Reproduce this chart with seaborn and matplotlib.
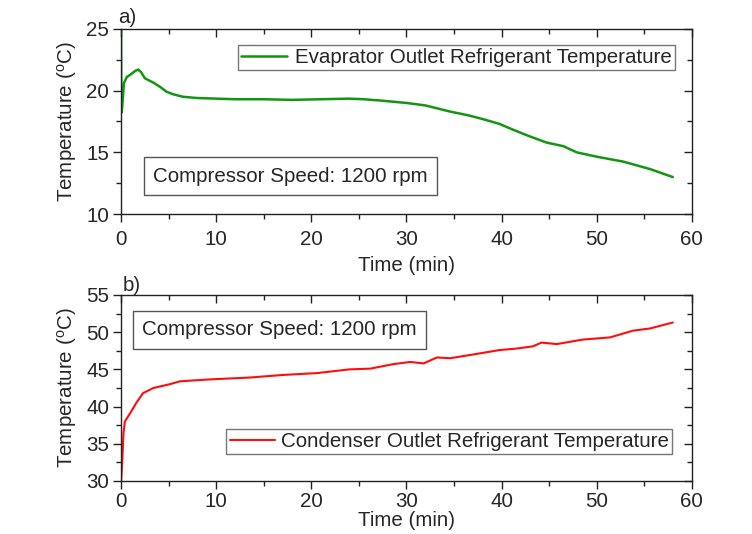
import matplotlib
matplotlib.use("Agg")
import matplotlib.pyplot as plt
import seaborn as sns
import pandas as pd
import numpy as np

sns.set_style("ticks")
plt.rcParams['font.family'] = ['Liberation Sans', 'DejaVu Sans']
plt.rcParams['mathtext.fontset'] = 'custom'
plt.rcParams['mathtext.rm'] = 'Liberation Sans'
plt.rcParams['mathtext.it'] = 'Liberation Sans:italic'

# Evaporator outlet refrigerant temperature (panel a)
evap_time = [0.0, 0.02, 0.1, 0.3, 0.6, 1.0, 1.5, 1.8, 2.1, 2.5, 3.0, 3.5, 4.1, 4.8, 5.5, 6.5,
             8.0, 10.0, 12.0, 15.0, 18.0, 21.0, 24.0, 25.5, 27.2, 30.0, 32.0, 34.6, 36.5,
             38.0, 39.8, 41.0, 42.6, 44.7, 46.5, 47.9, 50.0, 52.8, 55.6, 58.0]
evap_temp = [26.0, 18.2, 18.5, 20.6, 21.1, 21.3, 21.6, 21.7, 21.5, 21.0, 20.8, 20.6, 20.3, 19.9, 19.7, 19.5,
             19.4, 19.35, 19.3, 19.3, 19.25, 19.3, 19.35, 19.3, 19.2, 19.0, 18.8, 18.3, 18.0,
             17.7, 17.3, 16.9, 16.4, 15.8, 15.5, 15.0, 14.65, 14.25, 13.65, 13.0]

# Condenser outlet refrigerant temperature (panel b)
cond_time = [0.0, 0.1, 0.25, 0.4, 0.95, 1.6, 2.3, 3.4, 5.1, 6.2, 9.3, 13.5, 17.0, 20.6, 24.0,
             26.2, 28.6, 30.4, 31.8, 33.2, 34.6, 37.0, 39.8, 41.6, 43.3, 44.2, 45.8, 48.5,
             51.4, 53.8, 55.6, 58.0]
cond_temp = [30.0, 31.9, 36.4, 38.0, 39.1, 40.5, 41.8, 42.5, 43.0, 43.4, 43.65, 43.9, 44.25, 44.5, 45.0,
             45.1, 45.7, 46.0, 45.8, 46.6, 46.5, 47.0, 47.6, 47.8, 48.1, 48.6, 48.4, 49.0,
             49.3, 50.2, 50.5, 51.3]

evap_df = pd.DataFrame({"Time": evap_time, "Temp": evap_temp})
cond_df = pd.DataFrame({"Time": cond_time, "Temp": cond_temp})

fig = plt.figure(figsize=(7.52, 5.34), dpi=100)
ax1 = fig.add_axes([0.161, 0.599, 0.759, 0.347])
ax2 = fig.add_axes([0.161, 0.0993, 0.759, 0.3483])

FS = 14.8
sns.lineplot(data=evap_df, x="Time", y="Temp", ax=ax1, color="#129612", linewidth=1.8,
             label="Evaprator Outlet Refrigerant Temperature")
sns.lineplot(data=cond_df, x="Time", y="Temp", ax=ax2, color="#ff0d0d", linewidth=1.5,
             label="Condenser Outlet Refrigerant Temperature")

def style(ax, ylim, yticks, yminor, xpad, xlabelpad):
    ax.set_xlim(0, 60)
    ax.set_ylim(*ylim)
    ax.set_xticks([0, 10, 20, 30, 40, 50, 60])
    ax.set_xticks([5, 15, 25, 35, 45, 55], minor=True)
    ax.set_yticks(yticks)
    ax.set_yticks(yminor, minor=True)
    ax.tick_params(axis='both', which='major', labelsize=FS, length=5.5, width=1.0, color='#222222')
    ax.tick_params(axis='both', which='minor', length=3.5, width=1.0, color='#222222')
    ax.tick_params(top=True, right=True, which='both')
    ax.tick_params(axis='x', which='major', pad=xpad)
    ax.tick_params(axis='y', which='major', pad=3)
    for spine in ax.spines.values():
        spine.set_color('#222222')
        spine.set_linewidth(1.0)
    ax.set_xlabel("Time (min)", fontsize=FS, labelpad=xlabelpad)
    ax.set_ylabel(r"Temperature ($^{\mathrm{o}}$C)", fontsize=FS, labelpad=5)

style(ax1, (10, 25), [10, 15, 20, 25], [12.5, 17.5, 22.5], xpad=6, xlabelpad=5)
style(ax2, (30, 55), [30, 35, 40, 45, 50, 55], [32.5, 37.5, 42.5, 47.5, 52.5], xpad=2.5, xlabelpad=0)

for ax in (ax1, ax2):
    # left/bottom ticks outward, top/right ticks inward
    for t in ax.xaxis.get_major_ticks() + ax.xaxis.get_minor_ticks():
        t.tick1line.set_marker(matplotlib.lines.TICKDOWN)
        t.tick2line.set_marker(matplotlib.lines.TICKDOWN)
    for t in ax.yaxis.get_major_ticks() + ax.yaxis.get_minor_ticks():
        t.tick1line.set_marker(matplotlib.lines.TICKLEFT)
        t.tick2line.set_marker(matplotlib.lines.TICKLEFT)

leg1 = ax1.legend(loc='upper right', bbox_to_anchor=(0.970, 0.914), borderaxespad=0, fontsize=FS,
                  frameon=True, fancybox=False, edgecolor='#555555', handlelength=2.2,
                  handletextpad=0.4, borderpad=0.15)
leg1.get_frame().set_linewidth(1.0)
leg2 = ax2.legend(loc='upper right', bbox_to_anchor=(0.965, 0.280), borderaxespad=0, fontsize=FS,
                  frameon=True, fancybox=False, edgecolor='#555555', handlelength=2.2,
                  handletextpad=0.3, borderpad=0.15)
leg2.get_frame().set_linewidth(1.0)

box = dict(boxstyle='square,pad=0.45', fc='white', ec='#555555', lw=1.0)
ax1.text(0.056, 0.205, "Compressor Speed: 1200 rpm", transform=ax1.transAxes, fontsize=FS,
         ha='left', va='center', bbox=box)
ax2.text(0.037, 0.812, "Compressor Speed: 1200 rpm", transform=ax2.transAxes, fontsize=FS,
         ha='left', va='center', bbox=box)

ax1.text(-0.005, 1.01, "a)", transform=ax1.transAxes, fontsize=FS, ha='left', va='bottom')
ax2.text(0.002, 1.0, "b)", transform=ax2.transAxes, fontsize=FS, ha='left', va='bottom')

fig.savefig("out.png", dpi=100)
